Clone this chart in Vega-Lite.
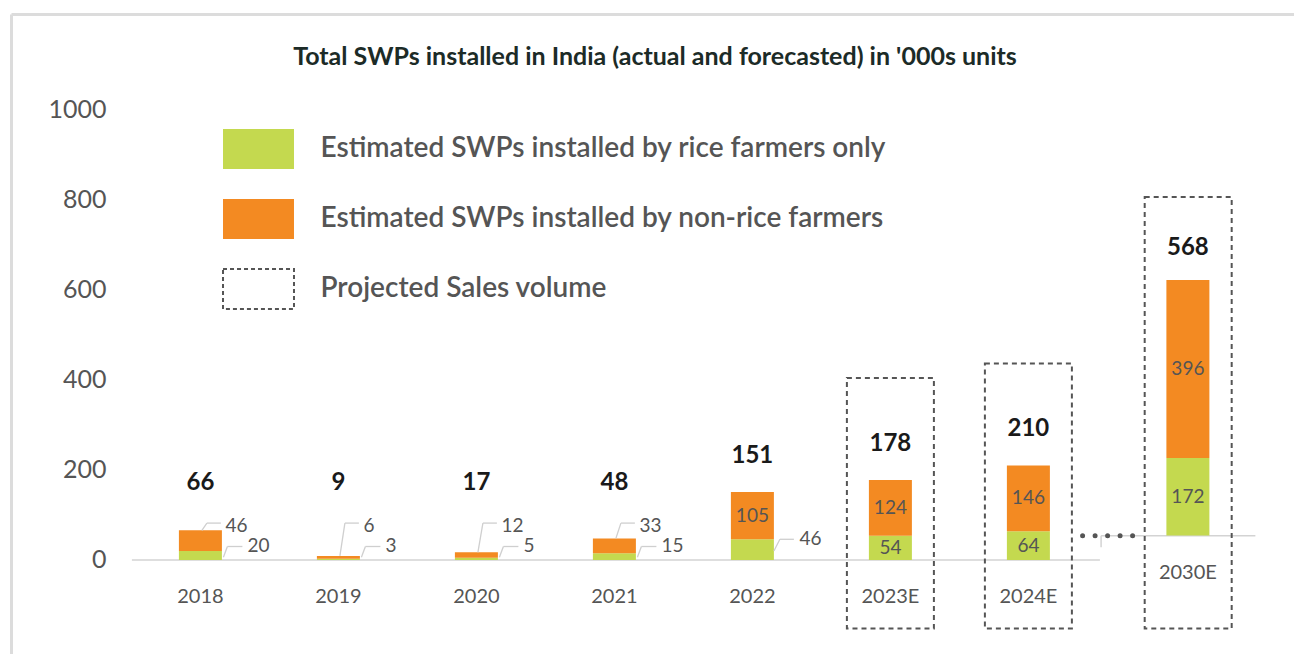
{
  "$schema": "https://vega.github.io/schema/vega-lite/v6.json",
  "width": 1283,
  "height": 640,
  "autosize": {"type": "none"},
  "padding": {"left": 11, "top": 14, "right": 0, "bottom": 0},
  "background": "#ffffff",
  "title": {
    "text": "Total SWPs installed in India (actual and forecasted) in '000s units",
    "anchor": "middle", "frame": "group", "orient": "top", "offset": -80, "baseline": "middle", "dx": 2.5,
    "fontSize": 25, "fontWeight": 700, "color": "#1c2b27", "font": "Lato"
  },
  "data": {
    "values": [
      {"year": "2018", "segment": "rice", "value": 20},
      {"year": "2018", "segment": "non-rice", "value": 46},
      {"year": "2019", "segment": "rice", "value": 3},
      {"year": "2019", "segment": "non-rice", "value": 6},
      {"year": "2020", "segment": "rice", "value": 5},
      {"year": "2020", "segment": "non-rice", "value": 12},
      {"year": "2021", "segment": "rice", "value": 15},
      {"year": "2021", "segment": "non-rice", "value": 33},
      {"year": "2022", "segment": "rice", "value": 46},
      {"year": "2022", "segment": "non-rice", "value": 105},
      {"year": "2023E", "segment": "rice", "value": 54},
      {"year": "2023E", "segment": "non-rice", "value": 124},
      {"year": "2024E", "segment": "rice", "value": 64},
      {"year": "2024E", "segment": "non-rice", "value": 146},
      {"year": "2030E", "segment": "rice", "value": 172},
      {"year": "2030E", "segment": "non-rice", "value": 396}
    ]
  },
  "transform": [
    {"stack": "value", "groupby": ["year"], "sort": [{"field": "segment", "order": "descending"}], "as": ["v0", "v1"]},
    {"calculate": "(datum.v0 + datum.v1) / 2", "as": "mid"},
    {"joinaggregate": [{"op": "sum", "field": "value", "as": "total"}], "groupby": ["year"]}
  ],
  "layer": [
    {
      "transform": [{"filter": "datum.year === '2018' && datum.segment === 'rice'"}],
      "mark": {"type": "rule", "color": "#d3d3d3", "strokeWidth": 1.5, "xOffset": -68.5, "x2Offset": 71.5},
      "encoding": {
        "x": {"datum": "2018", "type": "nominal", "axis": null,
              "scale": {"type": "band", "domain": ["2018", "2019", "2020", "2021", "2022", "2023E", "2024E", "2030E"], "paddingInner": 0, "paddingOuter": 0.6486, "align": 0.6726}},
        "x2": {"datum": "2024E"},
        "y": {"datum": 0, "type": "quantitative", "title": null,
              "scale": {"domain": [-208.9, 1213.3], "nice": false, "zero": false},
              "axis": {
                "values": [0, 200, 400, 600, 800, 1000, 1213.3], "format": "d",
                "labelExpr": "datum.value > 1100 ? '' : datum.label",
                "ticks": false, "labelPadding": -95, "labelFontSize": 25, "labelColor": "#555555", "labelFont": "Lato",
                "labelOverlap": false, "labelFlush": false,
                "domain": true, "domainColor": "#dcdcdc", "domainWidth": 3,
                "grid": true, "gridColor": "#dcdcdc", "gridWidth": 3,
                "gridOpacity": {"condition": {"test": "datum.value > 1100", "value": 1}, "value": 0},
                "title": null
              }}
      }
    },
    {
      "transform": [{"filter": "datum.year === '2018' && datum.segment === 'rice'"}],
      "mark": {"type": "rule", "color": "#d3d3d3", "strokeWidth": 1.5, "xOffset": -65.3, "x2Offset": 89, "yOffset": -24.3},
      "encoding": {
        "x": {"datum": "2030E", "type": "nominal", "axis": null},
        "x2": {"datum": "2030E"},
        "y": {"datum": 0, "type": "quantitative", "title": null}
      }
    },
    {
      "transform": [{"filter": "datum.year === '2018' && datum.segment === 'rice'"}],
      "mark": {"type": "rule", "color": "#d3d3d3", "strokeWidth": 1.5, "xOffset": -65.3, "yOffset": -24.3, "y2Offset": -12.7},
      "encoding": {
        "x": {"datum": "2030E", "type": "nominal", "axis": null},
        "y": {"datum": 0, "type": "quantitative", "title": null},
        "y2": {"datum": 0}
      }
    },
    {
      "transform": [{"filter": "datum.year === '2018' && datum.segment === 'rice'"}],
      "mark": {"type": "rule", "color": "#555555", "strokeWidth": 5, "strokeCap": "round", "strokeDash": [0, 12.5], "xOffset": 54.2, "x2Offset": -33, "yOffset": -24.3},
      "encoding": {
        "x": {"datum": "2024E", "type": "nominal", "axis": null},
        "x2": {"datum": "2030E"},
        "y": {"datum": 0, "type": "quantitative", "title": null}
      }
    },
    {
      "transform": [{"filter": "datum.year !== '2030E'"}],
      "mark": {"type": "bar", "width": 43},
      "encoding": {
        "x": {"field": "year", "type": "nominal", "axis": null},
        "y": {"field": "v1", "type": "quantitative", "title": null},
        "y2": {"field": "v0"},
        "color": {
          "field": "segment", "type": "nominal",
          "scale": {"domain": ["rice", "non-rice", "projected"], "range": ["#c4d94f", "#f38a22", "transparent"]},
          "legend": {
            "orient": "none", "legendX": 211.5, "legendY": 99, "direction": "vertical", "title": null,
            "symbolType": "M-1.014,-0.571H1.014V0.571H-1.014Z", "symbolSize": 4900,
            "labelFontSize": 28, "labelColor": "#555555", "labelFont": "Lato", "labelFontWeight": 600,
            "labelOffset": 26, "rowPadding": 10, "padding": 0, "labelLimit": 0,
            "labelExpr": "datum.value === 'rice' ? 'Estimated SWPs installed by rice farmers only' : datum.value === 'non-rice' ? 'Estimated SWPs installed by non-rice farmers' : 'Projected Sales volume'",
            "encode": {
              "symbols": {
                "update": {
                  "stroke": [{"test": "datum.value === 'projected'", "value": "#555555"}, {"value": "transparent"}],
                  "strokeDash": [{"test": "datum.value === 'projected'", "value": [4, 3]}, {"value": [1, 0]}],
                  "strokeWidth": {"value": 2}
                }
              }
            }
          }
        }
      }
    },
    {
      "transform": [{"filter": "datum.year === '2030E'"}],
      "mark": {"type": "bar", "width": 43, "xOffset": 21.5, "yOffset": -24.5, "y2Offset": -24.5},
      "encoding": {
        "x": {"field": "year", "type": "nominal", "axis": null},
        "y": {"field": "v1", "type": "quantitative", "title": null},
        "y2": {"field": "v0"},
        "color": {"field": "segment", "type": "nominal"}
      }
    },
    {
      "transform": [{"filter": "(datum.year === '2023E' || datum.year === '2024E') && datum.segment === 'rice'"}],
      "mark": {"type": "bar", "width": 87, "fill": "transparent", "stroke": "#555555", "strokeWidth": 2, "strokeDash": [5, 4], "yOffset": -102},
      "encoding": {
        "x": {"field": "year", "type": "nominal", "axis": null},
        "y": {"field": "total", "type": "quantitative", "title": null},
        "y2": {"datum": -152.2}
      }
    },
    {
      "transform": [{"filter": "datum.year === '2030E' && datum.segment === 'rice'"}],
      "mark": {"type": "bar", "width": 87, "fill": "transparent", "stroke": "#555555", "strokeWidth": 2, "strokeDash": [5, 4], "xOffset": 21.8, "yOffset": -107.5},
      "encoding": {
        "x": {"field": "year", "type": "nominal", "axis": null},
        "y": {"field": "total", "type": "quantitative", "title": null},
        "y2": {"datum": -152.2}
      }
    },
    {
      "transform": [{"filter": "indexof(['2018','2019','2020','2021'], datum.year) >= 0 && datum.segment === 'non-rice'"}],
      "mark": {"type": "rule", "color": "#cfcfcf", "strokeWidth": 1.3, "xOffset": 1.5, "x2Offset": 6.5},
      "encoding": {
        "x": {"field": "year", "type": "nominal", "axis": null},
        "x2": {"field": "year"},
        "y": {"field": "total", "type": "quantitative", "title": null},
        "y2": {"datum": 82}
      }
    },
    {
      "transform": [{"filter": "indexof(['2018','2019','2020','2021'], datum.year) >= 0 && datum.segment === 'non-rice'"}],
      "mark": {"type": "rule", "color": "#cfcfcf", "strokeWidth": 1.3, "xOffset": 6.5, "x2Offset": 20.5},
      "encoding": {
        "x": {"field": "year", "type": "nominal", "axis": null},
        "x2": {"field": "year"},
        "y": {"datum": 82, "type": "quantitative", "title": null}
      }
    },
    {
      "transform": [{"filter": "indexof(['2018','2019','2020','2021'], datum.year) >= 0 && datum.segment === 'rice'"}],
      "mark": {"type": "rule", "color": "#cfcfcf", "strokeWidth": 1.3, "xOffset": 23, "x2Offset": 27},
      "encoding": {
        "x": {"field": "year", "type": "nominal", "axis": null},
        "x2": {"field": "year"},
        "y": {"datum": 6, "type": "quantitative", "title": null},
        "y2": {"datum": 30}
      }
    },
    {
      "transform": [{"filter": "indexof(['2018','2019','2020','2021'], datum.year) >= 0 && datum.segment === 'rice'"}],
      "mark": {"type": "rule", "color": "#cfcfcf", "strokeWidth": 1.3, "xOffset": 27, "x2Offset": 42},
      "encoding": {
        "x": {"field": "year", "type": "nominal", "axis": null},
        "x2": {"field": "year"},
        "y": {"datum": 30, "type": "quantitative", "title": null}
      }
    },
    {
      "transform": [{"filter": "datum.year === '2022' && datum.segment === 'rice'"}],
      "mark": {"type": "rule", "color": "#cfcfcf", "strokeWidth": 1.3, "xOffset": 21.5, "x2Offset": 27.5},
      "encoding": {
        "x": {"field": "year", "type": "nominal", "axis": null},
        "x2": {"field": "year"},
        "y": {"datum": 20, "type": "quantitative", "title": null},
        "y2": {"datum": 46}
      }
    },
    {
      "transform": [{"filter": "datum.year === '2022' && datum.segment === 'rice'"}],
      "mark": {"type": "rule", "color": "#cfcfcf", "strokeWidth": 1.3, "xOffset": 27.5, "x2Offset": 41.5},
      "encoding": {
        "x": {"field": "year", "type": "nominal", "axis": null},
        "x2": {"field": "year"},
        "y": {"datum": 46, "type": "quantitative", "title": null}
      }
    },
    {
      "transform": [{"filter": "indexof(['2018','2019','2020','2021'], datum.year) >= 0 && datum.segment === 'non-rice'"}],
      "mark": {"type": "text", "align": "left", "dx": 25, "fontSize": 19, "color": "#555555", "font": "Lato"},
      "encoding": {
        "x": {"field": "year", "type": "nominal", "axis": null},
        "y": {"datum": 75.5, "type": "quantitative", "title": null},
        "text": {"field": "value", "type": "quantitative"}
      }
    },
    {
      "transform": [{"filter": "indexof(['2018','2019','2020','2021'], datum.year) >= 0 && datum.segment === 'rice'"}],
      "mark": {"type": "text", "align": "left", "dx": 47, "fontSize": 19, "color": "#555555", "font": "Lato"},
      "encoding": {
        "x": {"field": "year", "type": "nominal", "axis": null},
        "y": {"datum": 31, "type": "quantitative", "title": null},
        "text": {"field": "value", "type": "quantitative"}
      }
    },
    {
      "transform": [{"filter": "datum.year === '2022' && datum.segment === 'rice'"}],
      "mark": {"type": "text", "align": "left", "dx": 47, "fontSize": 19, "color": "#555555", "font": "Lato"},
      "encoding": {
        "x": {"field": "year", "type": "nominal", "axis": null},
        "y": {"datum": 46, "type": "quantitative", "title": null},
        "text": {"field": "value", "type": "quantitative"}
      }
    },
    {
      "transform": [{"filter": "datum.year === '2023E' || datum.year === '2024E' || (datum.year === '2022' && datum.segment === 'non-rice')"}],
      "mark": {"type": "text", "fontSize": 19, "color": "#555555", "font": "Lato"},
      "encoding": {
        "x": {"field": "year", "type": "nominal", "axis": null},
        "y": {"field": "mid", "type": "quantitative", "title": null},
        "text": {"field": "value", "type": "quantitative"}
      }
    },
    {
      "transform": [{"filter": "datum.year === '2030E'"}],
      "mark": {"type": "text", "fontSize": 19, "color": "#555555", "font": "Lato", "dx": 21.5, "dy": -24.5},
      "encoding": {
        "x": {"field": "year", "type": "nominal", "axis": null},
        "y": {"field": "mid", "type": "quantitative", "title": null},
        "text": {"field": "value", "type": "quantitative"}
      }
    },
    {
      "transform": [{"filter": "indexof(['2018','2019','2020','2021'], datum.year) >= 0 && datum.segment === 'rice'"}],
      "mark": {"type": "text", "fontSize": 24, "fontWeight": "bold", "color": "#1a1a1a", "font": "Lato"},
      "encoding": {
        "x": {"field": "year", "type": "nominal", "axis": null},
        "y": {"datum": 172, "type": "quantitative", "title": null},
        "text": {"field": "total", "type": "quantitative"}
      }
    },
    {
      "transform": [{"filter": "indexof(['2022','2023E','2024E'], datum.year) >= 0 && datum.segment === 'rice'"}],
      "mark": {"type": "text", "fontSize": 24, "fontWeight": "bold", "color": "#1a1a1a", "font": "Lato", "dy": -36},
      "encoding": {
        "x": {"field": "year", "type": "nominal", "axis": null},
        "y": {"field": "total", "type": "quantitative", "title": null},
        "text": {"field": "total", "type": "quantitative"}
      }
    },
    {
      "transform": [{"filter": "datum.year === '2030E' && datum.segment === 'rice'"}],
      "mark": {"type": "text", "fontSize": 24, "fontWeight": "bold", "color": "#1a1a1a", "font": "Lato", "dx": 21.5, "dy": -56.4},
      "encoding": {
        "x": {"field": "year", "type": "nominal", "axis": null},
        "y": {"field": "total", "type": "quantitative", "title": null},
        "text": {"field": "total", "type": "quantitative"}
      }
    },
    {
      "transform": [{"filter": "datum.year !== '2030E' && datum.segment === 'rice'"}],
      "mark": {"type": "text", "fontSize": 20, "color": "#555555", "font": "Lato"},
      "encoding": {
        "x": {"field": "year", "type": "nominal", "axis": null},
        "y": {"datum": -83.3, "type": "quantitative", "title": null},
        "text": {"field": "year", "type": "nominal"}
      }
    },
    {
      "transform": [{"filter": "datum.year === '2030E' && datum.segment === 'rice'"}],
      "mark": {"type": "text", "fontSize": 20, "color": "#555555", "font": "Lato", "dx": 21.5},
      "encoding": {
        "x": {"field": "year", "type": "nominal", "axis": null},
        "y": {"datum": -27.8, "type": "quantitative", "title": null},
        "text": {"field": "year", "type": "nominal"}
      }
    }
  ],
  "config": {
    "view": {"stroke": null},
    "font": "Lato"
  }
}
